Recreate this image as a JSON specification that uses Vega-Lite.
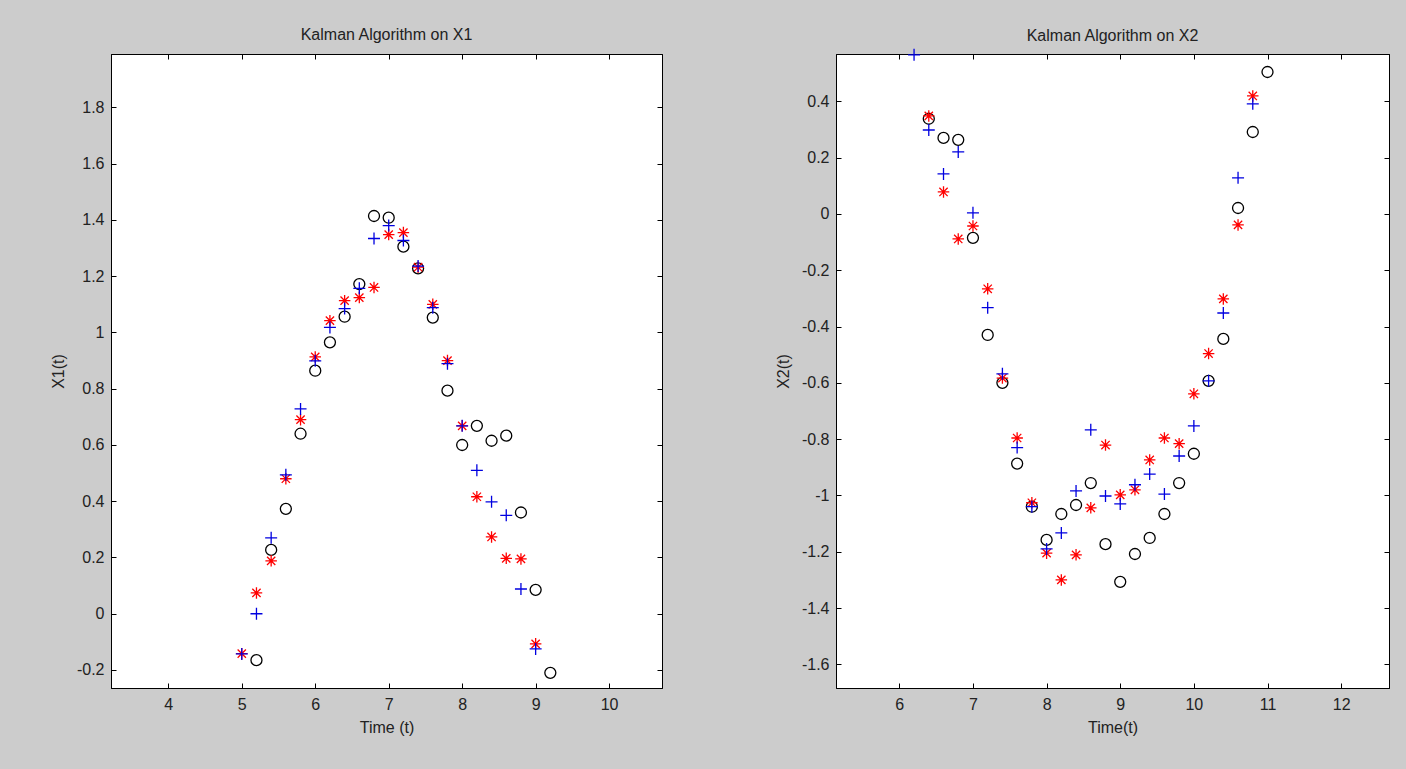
{
  "$schema": "https://vega.github.io/schema/vega-lite/v6.json",
  "background": "#cccccc",
  "padding": {"left": 49, "top": 26, "right": 16, "bottom": 35},
  "config": {
    "font": "Liberation Sans",
    "view": {"stroke": "#000000", "strokeWidth": 1, "fill": "#ffffff"},
    "axis": {
      "grid": false,
      "domainColor": "#000000",
      "tickColor": "#000000",
      "tickSize": -5,
      "labelFont": "Liberation Sans",
      "labelFontSize": 16,
      "labelColor": "#222222",
      "titleFont": "Liberation Sans",
      "titleFontSize": 16,
      "titleFontWeight": "normal",
      "titleColor": "#222222",
      "labelFlush": false,
      "labelOverlap": false
    },
    "axisX": {"labelPadding": 13, "titlePadding": 7},
    "axisY": {"labelPadding": 12, "titlePadding": 10},
    "title": {"font": "Liberation Sans", "fontSize": 16, "fontWeight": "normal", "color": "#222222", "offset": 11, "anchor": "middle", "frame": "group"}
  },
  "datasets": {
    "pts": [
      {"panel": "X1", "s": "true", "t": 5.2, "v": -0.165},
      {"panel": "X1", "s": "true", "t": 5.4, "v": 0.227},
      {"panel": "X1", "s": "true", "t": 5.6, "v": 0.373},
      {"panel": "X1", "s": "true", "t": 5.8, "v": 0.64},
      {"panel": "X1", "s": "true", "t": 6.0, "v": 0.864},
      {"panel": "X1", "s": "true", "t": 6.2, "v": 0.965},
      {"panel": "X1", "s": "true", "t": 6.4, "v": 1.056},
      {"panel": "X1", "s": "true", "t": 6.6, "v": 1.172},
      {"panel": "X1", "s": "true", "t": 6.8, "v": 1.414},
      {"panel": "X1", "s": "true", "t": 7.0, "v": 1.408},
      {"panel": "X1", "s": "true", "t": 7.2, "v": 1.305},
      {"panel": "X1", "s": "true", "t": 7.4, "v": 1.228},
      {"panel": "X1", "s": "true", "t": 7.6, "v": 1.053},
      {"panel": "X1", "s": "true", "t": 7.8, "v": 0.793},
      {"panel": "X1", "s": "true", "t": 8.0, "v": 0.6},
      {"panel": "X1", "s": "true", "t": 8.2, "v": 0.668},
      {"panel": "X1", "s": "true", "t": 8.4, "v": 0.615},
      {"panel": "X1", "s": "true", "t": 8.6, "v": 0.633},
      {"panel": "X1", "s": "true", "t": 8.8, "v": 0.36},
      {"panel": "X1", "s": "true", "t": 9.0, "v": 0.085},
      {"panel": "X1", "s": "true", "t": 9.2, "v": -0.21},
      {"panel": "X1", "s": "meas", "t": 5.0, "v": -0.142},
      {"panel": "X1", "s": "meas", "t": 5.2, "v": 0.074},
      {"panel": "X1", "s": "meas", "t": 5.4, "v": 0.188},
      {"panel": "X1", "s": "meas", "t": 5.6, "v": 0.48},
      {"panel": "X1", "s": "meas", "t": 5.8, "v": 0.69},
      {"panel": "X1", "s": "meas", "t": 6.0, "v": 0.913},
      {"panel": "X1", "s": "meas", "t": 6.2, "v": 1.042},
      {"panel": "X1", "s": "meas", "t": 6.4, "v": 1.113},
      {"panel": "X1", "s": "meas", "t": 6.6, "v": 1.124},
      {"panel": "X1", "s": "meas", "t": 6.8, "v": 1.16},
      {"panel": "X1", "s": "meas", "t": 7.0, "v": 1.348},
      {"panel": "X1", "s": "meas", "t": 7.2, "v": 1.355},
      {"panel": "X1", "s": "meas", "t": 7.4, "v": 1.232},
      {"panel": "X1", "s": "meas", "t": 7.6, "v": 1.1},
      {"panel": "X1", "s": "meas", "t": 7.8, "v": 0.9},
      {"panel": "X1", "s": "meas", "t": 8.0, "v": 0.668},
      {"panel": "X1", "s": "meas", "t": 8.2, "v": 0.416},
      {"panel": "X1", "s": "meas", "t": 8.4, "v": 0.273},
      {"panel": "X1", "s": "meas", "t": 8.6, "v": 0.197},
      {"panel": "X1", "s": "meas", "t": 8.8, "v": 0.195},
      {"panel": "X1", "s": "meas", "t": 9.0, "v": -0.107},
      {"panel": "X1", "s": "est", "t": 5.0, "v": -0.143},
      {"panel": "X1", "s": "est", "t": 5.2, "v": 0.0},
      {"panel": "X1", "s": "est", "t": 5.4, "v": 0.27},
      {"panel": "X1", "s": "est", "t": 5.6, "v": 0.494},
      {"panel": "X1", "s": "est", "t": 5.8, "v": 0.728},
      {"panel": "X1", "s": "est", "t": 6.0, "v": 0.899},
      {"panel": "X1", "s": "est", "t": 6.2, "v": 1.018},
      {"panel": "X1", "s": "est", "t": 6.4, "v": 1.085},
      {"panel": "X1", "s": "est", "t": 6.6, "v": 1.157},
      {"panel": "X1", "s": "est", "t": 6.8, "v": 1.334},
      {"panel": "X1", "s": "est", "t": 7.0, "v": 1.38},
      {"panel": "X1", "s": "est", "t": 7.2, "v": 1.327},
      {"panel": "X1", "s": "est", "t": 7.4, "v": 1.236},
      {"panel": "X1", "s": "est", "t": 7.6, "v": 1.088},
      {"panel": "X1", "s": "est", "t": 7.8, "v": 0.889},
      {"panel": "X1", "s": "est", "t": 8.0, "v": 0.668},
      {"panel": "X1", "s": "est", "t": 8.2, "v": 0.51},
      {"panel": "X1", "s": "est", "t": 8.4, "v": 0.398},
      {"panel": "X1", "s": "est", "t": 8.6, "v": 0.35},
      {"panel": "X1", "s": "est", "t": 8.8, "v": 0.088},
      {"panel": "X1", "s": "est", "t": 9.0, "v": -0.125},
      {"panel": "X2", "s": "true", "t": 6.4, "v": 0.338},
      {"panel": "X2", "s": "true", "t": 6.6, "v": 0.27},
      {"panel": "X2", "s": "true", "t": 6.8, "v": 0.263},
      {"panel": "X2", "s": "true", "t": 7.0, "v": -0.085},
      {"panel": "X2", "s": "true", "t": 7.2, "v": -0.43},
      {"panel": "X2", "s": "true", "t": 7.4, "v": -0.6},
      {"panel": "X2", "s": "true", "t": 7.6, "v": -0.887},
      {"panel": "X2", "s": "true", "t": 7.8, "v": -1.04},
      {"panel": "X2", "s": "true", "t": 8.0, "v": -1.158},
      {"panel": "X2", "s": "true", "t": 8.2, "v": -1.066},
      {"panel": "X2", "s": "true", "t": 8.4, "v": -1.034},
      {"panel": "X2", "s": "true", "t": 8.6, "v": -0.956},
      {"panel": "X2", "s": "true", "t": 8.8, "v": -1.173},
      {"panel": "X2", "s": "true", "t": 9.0, "v": -1.307},
      {"panel": "X2", "s": "true", "t": 9.2, "v": -1.208},
      {"panel": "X2", "s": "true", "t": 9.4, "v": -1.151},
      {"panel": "X2", "s": "true", "t": 9.6, "v": -1.066},
      {"panel": "X2", "s": "true", "t": 9.8, "v": -0.956},
      {"panel": "X2", "s": "true", "t": 10.0, "v": -0.852},
      {"panel": "X2", "s": "true", "t": 10.2, "v": -0.593},
      {"panel": "X2", "s": "true", "t": 10.4, "v": -0.444},
      {"panel": "X2", "s": "true", "t": 10.6, "v": 0.021},
      {"panel": "X2", "s": "true", "t": 10.8, "v": 0.291},
      {"panel": "X2", "s": "true", "t": 11.0, "v": 0.504},
      {"panel": "X2", "s": "meas", "t": 6.4, "v": 0.348},
      {"panel": "X2", "s": "meas", "t": 6.6, "v": 0.078},
      {"panel": "X2", "s": "meas", "t": 6.8, "v": -0.089},
      {"panel": "X2", "s": "meas", "t": 7.0, "v": -0.043},
      {"panel": "X2", "s": "meas", "t": 7.2, "v": -0.266},
      {"panel": "X2", "s": "meas", "t": 7.4, "v": -0.583},
      {"panel": "X2", "s": "meas", "t": 7.6, "v": -0.796},
      {"panel": "X2", "s": "meas", "t": 7.8, "v": -1.026},
      {"panel": "X2", "s": "meas", "t": 8.0, "v": -1.205},
      {"panel": "X2", "s": "meas", "t": 8.2, "v": -1.3},
      {"panel": "X2", "s": "meas", "t": 8.4, "v": -1.211},
      {"panel": "X2", "s": "meas", "t": 8.6, "v": -1.044},
      {"panel": "X2", "s": "meas", "t": 8.8, "v": -0.821},
      {"panel": "X2", "s": "meas", "t": 9.0, "v": -0.998},
      {"panel": "X2", "s": "meas", "t": 9.2, "v": -0.98},
      {"panel": "X2", "s": "meas", "t": 9.4, "v": -0.874},
      {"panel": "X2", "s": "meas", "t": 9.6, "v": -0.796},
      {"panel": "X2", "s": "meas", "t": 9.8, "v": -0.816},
      {"panel": "X2", "s": "meas", "t": 10.0, "v": -0.639},
      {"panel": "X2", "s": "meas", "t": 10.2, "v": -0.496},
      {"panel": "X2", "s": "meas", "t": 10.4, "v": -0.302},
      {"panel": "X2", "s": "meas", "t": 10.6, "v": -0.039},
      {"panel": "X2", "s": "meas", "t": 10.8, "v": 0.419},
      {"panel": "X2", "s": "est", "t": 6.2, "v": 0.565},
      {"panel": "X2", "s": "est", "t": 6.4, "v": 0.298},
      {"panel": "X2", "s": "est", "t": 6.6, "v": 0.142},
      {"panel": "X2", "s": "est", "t": 6.8, "v": 0.22},
      {"panel": "X2", "s": "est", "t": 7.0, "v": 0.004},
      {"panel": "X2", "s": "est", "t": 7.2, "v": -0.333},
      {"panel": "X2", "s": "est", "t": 7.4, "v": -0.568},
      {"panel": "X2", "s": "est", "t": 7.6, "v": -0.83},
      {"panel": "X2", "s": "est", "t": 7.8, "v": -1.04},
      {"panel": "X2", "s": "est", "t": 8.0, "v": -1.19},
      {"panel": "X2", "s": "est", "t": 8.2, "v": -1.133},
      {"panel": "X2", "s": "est", "t": 8.4, "v": -0.984},
      {"panel": "X2", "s": "est", "t": 8.6, "v": -0.767},
      {"panel": "X2", "s": "est", "t": 8.8, "v": -1.002},
      {"panel": "X2", "s": "est", "t": 9.0, "v": -1.03},
      {"panel": "X2", "s": "est", "t": 9.2, "v": -0.962},
      {"panel": "X2", "s": "est", "t": 9.4, "v": -0.924},
      {"panel": "X2", "s": "est", "t": 9.6, "v": -0.995},
      {"panel": "X2", "s": "est", "t": 9.8, "v": -0.86},
      {"panel": "X2", "s": "est", "t": 10.0, "v": -0.753},
      {"panel": "X2", "s": "est", "t": 10.2, "v": -0.593},
      {"panel": "X2", "s": "est", "t": 10.4, "v": -0.352},
      {"panel": "X2", "s": "est", "t": 10.6, "v": 0.128},
      {"panel": "X2", "s": "est", "t": 10.8, "v": 0.391}
    ]
  },
  "data": {"name": "pts"},
  "bounds": "flush",
  "spacing": 174,
  "hconcat": [
    {
      "width": 551,
      "height": 634,
      "title": {"text": "Kalman Algorithm on X1", "offset": 11},
      "transform": [{"filter": "datum.panel === 'X1'"}],
      "layer": [
        {
          "mark": {"type": "point", "filled": false, "strokeWidth": 1.3, "opacity": 1},
          "encoding": {
            "x": {"field": "t", "type": "quantitative", "scale": {"domain": [3.22, 10.72], "nice": false, "zero": false}, "axis": {"orient": "bottom", "values": [4, 5, 6, 7, 8, 9, 10], "title": "Time (t)"}},
            "y": {"field": "v", "type": "quantitative", "scale": {"domain": [-0.264, 1.99], "nice": false, "zero": false}, "axis": {"orient": "left", "values": [-0.2, 0, 0.2, 0.4, 0.6, 0.8, 1, 1.2, 1.4, 1.6, 1.8], "title": "X1(t)", "labelExpr": "toString(round(datum.value*10)/10)"}},
            "shape": {"field": "s", "type": "nominal", "scale": {"domain": ["true", "meas", "est"], "range": ["circle", "M-1,0H1M0,-1V1M-0.72,-0.72L0.72,0.72M-0.72,0.72L0.72,-0.72", "M-1,0H1M0,-1V1"]}, "legend": null},
            "stroke": {"field": "s", "type": "nominal", "scale": {"domain": ["true", "meas", "est"], "range": ["#000000", "#ff0000", "#0000e0"]}, "legend": null},
            "size": {"field": "s", "type": "nominal", "scale": {"domain": ["true", "meas", "est"], "range": [121, 144, 169]}, "legend": null}
          }
        },
        {
          "mark": {"type": "point", "opacity": 0},
          "encoding": {
            "x": {"field": "t", "type": "quantitative", "axis": {"orient": "top", "values": [4, 5, 6, 7, 8, 9, 10], "labels": false, "title": null}},
            "y": {"field": "v", "type": "quantitative", "axis": {"orient": "right", "values": [-0.2, 0, 0.2, 0.4, 0.6, 0.8, 1, 1.2, 1.4, 1.6, 1.8], "labels": false, "title": null}}
          }
        }
      ],
      "resolve": {"axis": {"x": "independent", "y": "independent"}}
    },
    {
      "width": 553,
      "height": 634,
      "title": {"text": "Kalman Algorithm on X2", "offset": 2},
      "transform": [{"filter": "datum.panel === 'X2'"}],
      "layer": [
        {
          "mark": {"type": "point", "filled": false, "strokeWidth": 1.3, "opacity": 1},
          "encoding": {
            "x": {"field": "t", "type": "quantitative", "scale": {"domain": [5.14, 12.65], "nice": false, "zero": false}, "axis": {"orient": "bottom", "values": [6, 7, 8, 9, 10, 11, 12], "title": "Time(t)"}},
            "y": {"field": "v", "type": "quantitative", "scale": {"domain": [-1.684, 0.568], "nice": false, "zero": false}, "axis": {"orient": "left", "values": [-1.6, -1.4, -1.2, -1, -0.8, -0.6, -0.4, -0.2, 0, 0.2, 0.4], "title": "X2(t)", "labelExpr": "toString(round(datum.value*10)/10)"}},
            "shape": {"field": "s", "type": "nominal", "scale": {"domain": ["true", "meas", "est"], "range": ["circle", "M-1,0H1M0,-1V1M-0.72,-0.72L0.72,0.72M-0.72,0.72L0.72,-0.72", "M-1,0H1M0,-1V1"]}, "legend": null},
            "stroke": {"field": "s", "type": "nominal", "scale": {"domain": ["true", "meas", "est"], "range": ["#000000", "#ff0000", "#0000e0"]}, "legend": null},
            "size": {"field": "s", "type": "nominal", "scale": {"domain": ["true", "meas", "est"], "range": [121, 144, 169]}, "legend": null}
          }
        },
        {
          "mark": {"type": "point", "opacity": 0},
          "encoding": {
            "x": {"field": "t", "type": "quantitative", "axis": {"orient": "top", "values": [6, 7, 8, 9, 10, 11, 12], "labels": false, "title": null}},
            "y": {"field": "v", "type": "quantitative", "axis": {"orient": "right", "values": [-1.6, -1.4, -1.2, -1, -0.8, -0.6, -0.4, -0.2, 0, 0.2, 0.4], "labels": false, "title": null}}
          }
        }
      ],
      "resolve": {"axis": {"x": "independent", "y": "independent"}}
    }
  ]
}
